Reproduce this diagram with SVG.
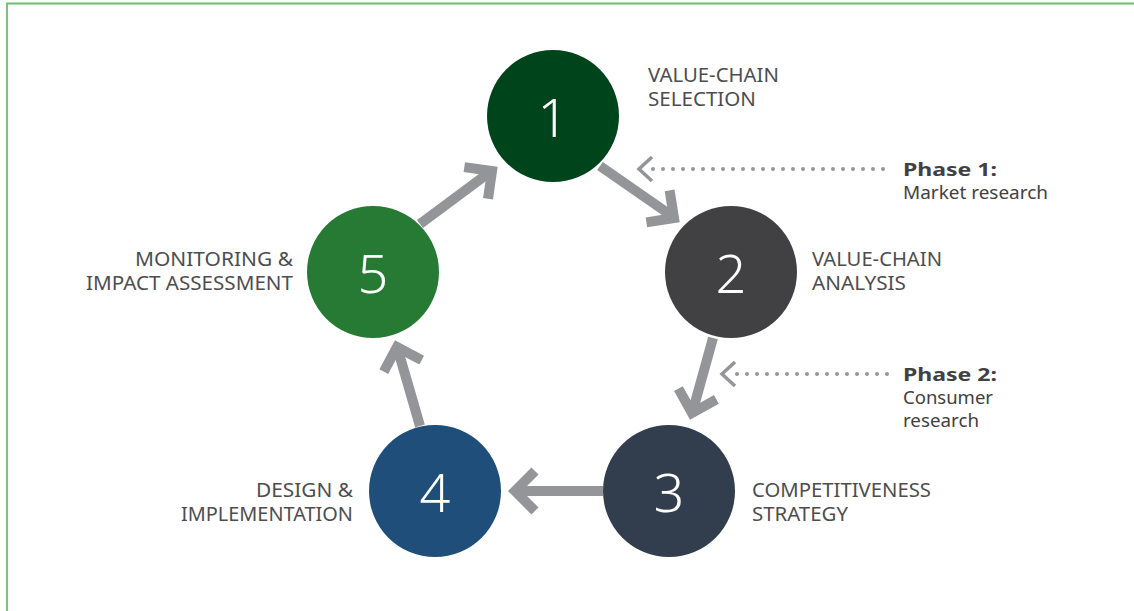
<svg xmlns="http://www.w3.org/2000/svg" width="1134" height="611" viewBox="0 0 1134 611">
<style>
.num{font-family:"Noto Sans","Liberation Sans",sans-serif;font-size:54px;font-weight:300;fill:#fff;text-anchor:middle}
.lbl{font-family:"Noto Sans","Liberation Sans",sans-serif;font-size:19px;fill:#4d4d4f}
.ph{font-family:"Noto Sans","Liberation Sans",sans-serif;font-size:18px;fill:#414042}
.arr{fill:none;stroke:#939598;stroke-width:10;stroke-linejoin:miter;stroke-miterlimit:10}
.dot{fill:none;stroke:#939598;stroke-width:4;stroke-linecap:round;stroke-dasharray:0 10}
.dch{fill:none;stroke:#939598;stroke-width:3.5}
</style>
<rect width="1134" height="611" fill="#fff"/>
<polyline points="7,611 7,3.5 1134,3.5" fill="none" stroke="#6cbf6c" stroke-width="1.8"/>
<g id="connectors">
<line class="arr" x1="600" y1="166" x2="672" y2="216"/>
<polyline class="arr" points="669.6,190.4 674,218 646.4,222.4"/>
<line class="arr" x1="713" y1="338" x2="693" y2="410"/>
<polyline class="arr" points="716.4,399.4 692,413 678.4,388.6"/>
<line class="arr" x1="603" y1="491" x2="518" y2="491"/>
<polyline class="arr" points="535,471 515,491 535,511"/>
<line class="arr" x1="420" y1="426" x2="398" y2="350"/>
<polyline class="arr" points="383.8,371.7 397,347 421.7,360.2"/>
<line class="arr" x1="420" y1="224" x2="490" y2="172"/>
<polyline class="arr" points="464.3,167.1 492,171 488,198.7"/>
<line class="dot" x1="653" y1="169" x2="893" y2="169"/>
<polyline class="dch" points="652,157 639,169 652,181"/>
<line class="dot" x1="737" y1="374" x2="890" y2="374"/>
<polyline class="dch" points="735,362 722,374 735,386"/>
</g>
<g id="node1">
<circle cx="553" cy="116" r="66" fill="#00441b"/>
<text class="num" x="553" y="137">1</text>
<text class="lbl" x="648" y="82" textLength="131" lengthAdjust="spacingAndGlyphs">VALUE-CHAIN</text>
<text class="lbl" x="648" y="106" textLength="108" lengthAdjust="spacingAndGlyphs">SELECTION</text>
</g>
<g id="node2">
<circle cx="731" cy="272" r="66" fill="#414042"/>
<text class="num" x="731" y="293">2</text>
<text class="lbl" x="812" y="266" textLength="130" lengthAdjust="spacingAndGlyphs">VALUE-CHAIN</text>
<text class="lbl" x="812" y="290" textLength="94" lengthAdjust="spacingAndGlyphs">ANALYSIS</text>
</g>
<g id="node3">
<circle cx="669" cy="491" r="66" fill="#323d4e"/>
<text class="num" x="669" y="512">3</text>
<text class="lbl" x="752" y="497" textLength="179" lengthAdjust="spacingAndGlyphs">COMPETITIVENESS</text>
<text class="lbl" x="752" y="521" textLength="96" lengthAdjust="spacingAndGlyphs">STRATEGY</text>
</g>
<g id="node4">
<circle cx="435" cy="491" r="66" fill="#1f4e7a"/>
<text class="num" x="435" y="512">4</text>
<text class="lbl" x="256" y="497" textLength="97" lengthAdjust="spacingAndGlyphs">DESIGN &amp;</text>
<text class="lbl" x="181" y="521" textLength="172" lengthAdjust="spacingAndGlyphs">IMPLEMENTATION</text>
</g>
<g id="node5">
<circle cx="373" cy="272" r="66" fill="#277a33"/>
<text class="num" x="373" y="293">5</text>
<text class="lbl" x="135" y="266" textLength="158" lengthAdjust="spacingAndGlyphs">MONITORING &amp;</text>
<text class="lbl" x="86" y="290" textLength="207" lengthAdjust="spacingAndGlyphs">IMPACT ASSESSMENT</text>
</g>
<g id="phase1">
<text class="ph" x="903" y="176" font-weight="bold" textLength="94" lengthAdjust="spacingAndGlyphs">Phase 1:</text>
<text class="ph" x="903" y="199" textLength="145" lengthAdjust="spacingAndGlyphs">Market research</text>
</g>
<g id="phase2">
<text class="ph" x="903" y="381" font-weight="bold" textLength="94" lengthAdjust="spacingAndGlyphs">Phase 2:</text>
<text class="ph" x="903" y="404" textLength="90" lengthAdjust="spacingAndGlyphs">Consumer</text>
<text class="ph" x="903" y="427" textLength="76" lengthAdjust="spacingAndGlyphs">research</text>
</g>
</svg>
